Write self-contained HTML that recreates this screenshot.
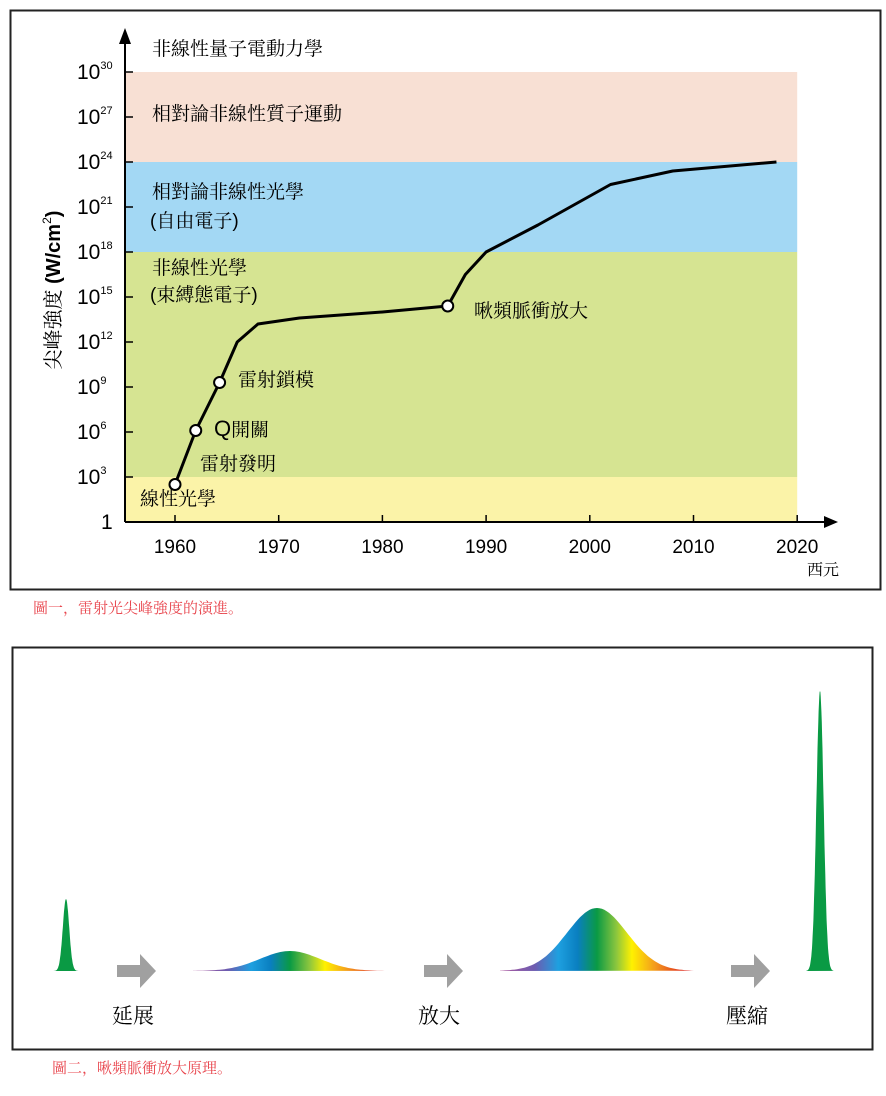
<!DOCTYPE html>
<html><head><meta charset="utf-8"><style>
body{margin:0;width:886px;height:1096px;background:#fff;overflow:hidden}
svg text{font-family:"Liberation Sans","Noto Serif CJK SC","Noto Sans CJK TC",sans-serif}
.cap{position:absolute;font-family:"Noto Serif CJK SC","Noto Sans CJK TC",serif;color:#e8444c;font-size:15px}
</style></head><body>
<svg width="886" height="1096" style="position:absolute;left:0;top:0">
<defs>
<linearGradient id="spec" x1="0" x2="1" y1="0" y2="0">
<stop offset="0" stop-color="#b05aa0"/><stop offset="0.18" stop-color="#6c5cb0"/>
<stop offset="0.3" stop-color="#1ea0e0"/><stop offset="0.4" stop-color="#0a7fc0"/>
<stop offset="0.5" stop-color="#0a9a44"/><stop offset="0.6" stop-color="#8cc63e"/>
<stop offset="0.68" stop-color="#fff100"/><stop offset="0.8" stop-color="#f39a1e"/>
<stop offset="0.92" stop-color="#e4401e"/><stop offset="1" stop-color="#d81e2e"/>
</linearGradient>
</defs>
<rect x="10.5" y="10.5" width="870" height="579" fill="none" stroke="#222" stroke-width="2"/>
<g id="bands"></g>
<g id="axes"></g>
<g id="curve"></g>
<text x="152" y="55" font-size="19">非線性量子電動力學</text>
<text x="152" y="120" font-size="19">相對論非線性質子運動</text>
<text x="152" y="198" font-size="19">相對論非線性光學</text>
<text x="150" y="227" font-size="19">(自由電子)</text>
<text x="152" y="274" font-size="19">非線性光學</text>
<text x="150" y="301" font-size="19">(束縛態電子)</text>
<text x="140" y="505" font-size="19">線性光學</text>
<text x="200" y="470" font-size="19">雷射發明</text>
<text x="214" y="436" font-size="19"><tspan font-size="22">Q</tspan>開關</text>
<text x="238" y="386" font-size="19">雷射鎖模</text>
<text x="474" y="317" font-size="19">啾頻脈衝放大</text>
<text x="807" y="575" font-size="16">西元</text>
<text transform="translate(60,290) rotate(-90)" text-anchor="middle" font-size="20">尖峰強度 <tspan font-weight="bold">(W/cm</tspan><tspan font-size="12" dy="-9">2</tspan><tspan font-weight="bold" dy="9">)</tspan></text>

<rect x="12.5" y="647.5" width="860" height="402" fill="none" stroke="#222" stroke-width="2"/>
<g id="pulses"></g>
<text x="112" y="1023" font-size="21">延展</text>
<text x="418" y="1023" font-size="21">放大</text>
<text x="726" y="1023" font-size="21">壓縮</text>
</svg>
<div class="cap" style="left:33px;top:597px">圖一，雷射光尖峰強度的演進。</div>
<div class="cap" style="left:52px;top:1057px">圖二，啾頻脈衝放大原理。</div>
<script>
const yearTicks=[1960,1970,1980,1990,2000,2010,2020];
const expTicks=[0,3,6,9,12,15,18,21,24,27,30];
const bandLows=[0,3,18,24];
const bandHighs=[3,18,24,30];
const bandColors=["#fbf3a8","#d6e492","#a3d8f4","#f8e0d4"];
const curveYears=[1960,1962,1964.3,1966,1968,1972,1980,1986.3,1988,1990,1995,2002,2008,2018];
const curveExps=[2.5,6.1,9.3,12,13.2,13.6,14,14.4,16.5,18,19.8,22.5,23.4,24];
const markerYears=[1960,1962,1964.3,1986.3];
const markerExps=[2.5,6.1,9.3,14.4];
const X=y=>175+(y-1960)*10.37, Y=e=>522-e*15;
const NS="http://www.w3.org/2000/svg";
function mk(p,t,a){const e=document.createElementNS(NS,t);for(const k in a)e.setAttribute(k,a[k]);p.appendChild(e);return e;}
const bands=document.getElementById('bands');
bandLows.forEach((l,i)=>{const r=mk(bands,'rect',{x:125,y:Y(bandHighs[i]),width:X(2020)-125,height:Y(l)-Y(bandHighs[i]),fill:bandColors[i]});

});
const ax=document.getElementById('axes');
const yl=mk(ax,'line',{x1:125,y1:Y(0),x2:125,y2:40,stroke:'#000','stroke-width':2});


mk(ax,'path',{d:'M119,44 L125,28 L131,44Z',fill:'#000'});
const xl=mk(ax,'line',{x1:125,y1:Y(0),x2:828,y2:Y(0),stroke:'#000','stroke-width':2});


mk(ax,'path',{d:'M824,516 L838,522 L824,528Z',fill:'#000'});
yearTicks.forEach(t=>{mk(ax,'line',{x1:X(t),y1:Y(0),x2:X(t),y2:Y(0)-7,stroke:'#000','stroke-width':1.5});
const tx=mk(ax,'text',{x:X(t),y:553,'text-anchor':'middle','font-size':19});tx.textContent=t;

});
expTicks.forEach(e=>{mk(ax,'line',{x1:125,y1:Y(e),x2:133,y2:Y(e),stroke:'#000','stroke-width':1.5});
const tx=mk(ax,'text',{x:e==0?101:77,y:Y(e)+7,'font-size':21});
if(e==0)tx.textContent='1';else{tx.textContent='10';const s=mk(tx,'tspan',{'font-size':11,dy:-10});s.textContent=e;}

});
const cv=document.getElementById('curve');
let d='';curveYears.forEach((y,i)=>{d+=(i?'L':'M')+X(y)+','+Y(curveExps[i]);});
const pl=mk(cv,'path',{d:d,fill:'none',stroke:'#000','stroke-width':3,'stroke-linejoin':'round'});


markerYears.forEach((y,i)=>{const c=mk(cv,'circle',{cx:X(y),cy:Y(markerExps[i]),r:5.5,fill:'#fff',stroke:'#000','stroke-width':2});

});
// pulses
const pg=document.getElementById('pulses');
const base=971;
function gauss(cx,hw,h,sig,fill,name){let p='M'+(cx-hw)+','+base;for(let i=0;i<=80;i++){const x=cx-hw+2*hw*i/80;const u=(x-cx)/sig;p+=' L'+x.toFixed(1)+','+(base-h*Math.exp(-u*u/2)).toFixed(1);}p+='Z';
const e=mk(pg,'path',{d:p,fill:fill});}
gauss(66,13,72,3.2,'#0a9a44','short-pulse');
gauss(290,97,20,30,'url(#spec)','stretched-pulse');
gauss(597,97,63,30,'url(#spec)','amplified-pulse');
gauss(820,14,280,3.6,'#0a9a44','compressed-pulse');
[117,424,731].forEach(x=>{const a=mk(pg,'path',{d:`M${x},965 h23 v-11 l16,17 l-16,17 v-11 h-23Z`,fill:'#a0a0a0'});

});
</script>
</body></html>
